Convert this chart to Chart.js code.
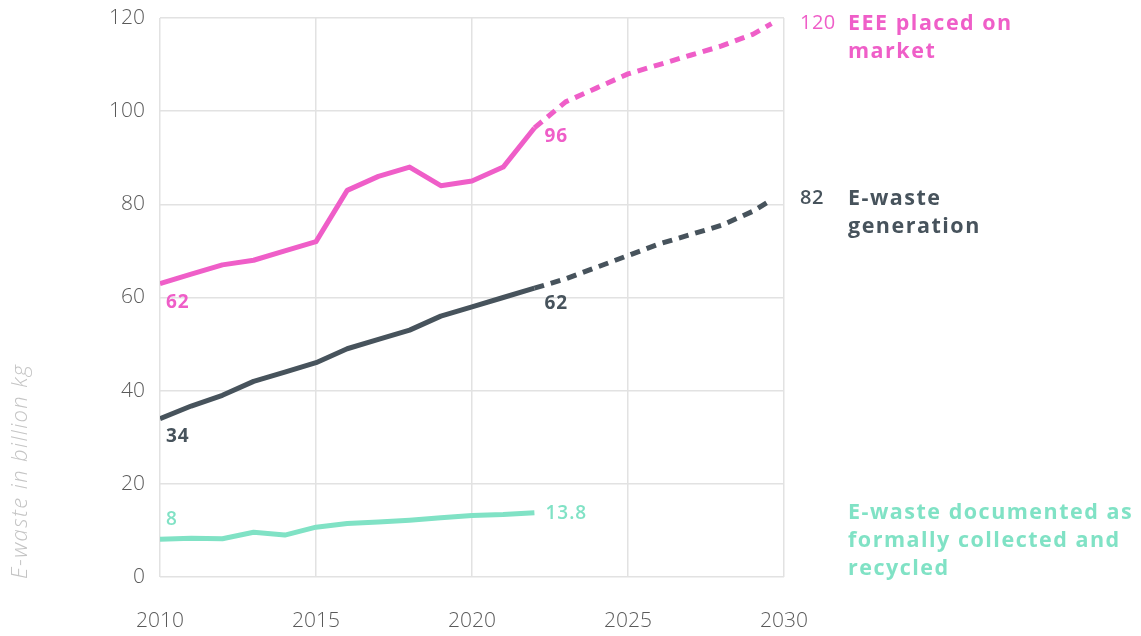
<!DOCTYPE html>
<html>
<head>
<meta charset="utf-8">
<script src="https://cdn.jsdelivr.net/npm/chart.js@4.4.1/dist/chart.umd.min.js"></script>
<style>
  html, body { margin: 0; padding: 0; background: #ffffff; }
  #wrap { width: 1141px; height: 636px; position: relative; }
</style>
</head>
<body>
<div id="wrap"><canvas id="c" width="1141" height="636"></canvas></div>
<script>
// ---- data ----
const years = [2010, 2011, 2012, 2013, 2014, 2015, 2016, 2017, 2018, 2019, 2020, 2021, 2022];
const eeeActual = [63, 65, 67, 68, 70, 72, 83, 86, 88, 84, 85, 88, 96.4];
const genActual = [34, 36.7, 39, 42, 44, 46, 49, 51, 53, 56, 58, 60, 62];
const collected = [8.1, 8.3, 8.2, 9.6, 9.0, 10.7, 11.5, 11.8, 12.2, 12.7, 13.2, 13.4, 13.8];
const projYears = [2022, 2023, 2024, 2025, 2026, 2027, 2028, 2029, 2029.6];
const eeeProj = [96.4, 102, 105, 108, 110, 112, 114, 116.5, 118.8];
const genProj = [62, 64, 66.5, 69, 71.5, 73.5, 75.5, 78.5, 81];
const yTicks = [0, 20, 40, 60, 80, 100, 120];
const xTicks = [2010, 2015, 2020, 2025, 2030];
const startLabels = { eee: '62', gen: '34', col: '8' };
const endLabels = { eee: '96', gen: '62', col: '13.8' };
const seriesNames = {
  eee: ['EEE placed on', 'market'],
  gen: ['E-waste', 'generation'],
  col: ['E-waste documented as', 'formally collected and', 'recycled']
};
const finalValues = { eee: '120', gen: '82' };
const yTitle = 'E-waste in billion kg';

const PINK = '#ef5ec8';
const GREY = '#47535c';
const TEAL = '#80e2c5';

const pts = (xs, ys) => xs.map((x, i) => ({ x: x, y: ys[i] }));

const labelPlugin = {
  id: 'labels',
  afterDatasetsDraw(chart) {
    const ctx = chart.ctx;
    const xs = chart.scales.x, ys = chart.scales.y;
    const ca = chart.chartArea;
    ctx.save();
    ctx.textBaseline = 'middle';
    ctx.textAlign = 'left';
    const f = (w, s, st) => (st || '') + ' ' + w + ' ' + s + 'px "Open Sans", sans-serif';
    // axis title
    ctx.save();
    ctx.translate(21, ca.bottom + 2);
    ctx.rotate(-Math.PI / 2);
    ctx.font = f(300, 22, 'italic');
    ctx.letterSpacing = '1.4px';
    ctx.fillStyle = '#c4c4c4';
    ctx.fillText(yTitle, 0, 0);
    ctx.restore();
    // start labels (below first point)
    ctx.letterSpacing = '1px';
    ctx.font = f(700, 19);
    ctx.fillStyle = PINK;
    ctx.fillText(startLabels.eee, xs.getPixelForValue(years[0]) + 6, ys.getPixelForValue(eeeActual[0]) + 19);
    ctx.fillStyle = GREY;
    ctx.fillText(startLabels.gen, xs.getPixelForValue(years[0]) + 6, ys.getPixelForValue(genActual[0]) + 18);
    ctx.fillStyle = TEAL;
    ctx.font = f(600, 19);
    ctx.fillText(startLabels.col, xs.getPixelForValue(years[0]) + 6, ys.getPixelForValue(collected[0]) - 20);
    // end-of-actual labels
    const last = years.length - 1;
    const xe = xs.getPixelForValue(years[last]) + 10;
    ctx.font = f(700, 19);
    ctx.fillStyle = PINK;
    ctx.fillText(endLabels.eee, xe, ys.getPixelForValue(eeeActual[last]) + 9);
    ctx.fillStyle = GREY;
    ctx.fillText(endLabels.gen, xe, ys.getPixelForValue(genActual[last]) + 15);
    ctx.fillStyle = TEAL;
    ctx.font = f(600, 19);
    ctx.fillText(endLabels.col, xe + 1, ys.getPixelForValue(collected[last]) + 1);
    // right-side series labels
    const xn = ca.right + 16, xt = ca.right + 64, lh = 28;
    const yE = ys.getPixelForValue(eeeProj[eeeProj.length - 1]);
    const yG = ys.getPixelForValue(genProj[genProj.length - 1]) - 1;
    const yC = ys.getPixelForValue(collected[last]);
    ctx.letterSpacing = '0.5px';
    ctx.font = f(500, 20);
    ctx.fillStyle = PINK;
    ctx.fillText(finalValues.eee, xn, yE);
    ctx.fillStyle = GREY;
    ctx.font = f(600, 20);
    ctx.fillText(finalValues.gen, xn, yG);
    ctx.letterSpacing = '1.5px';
    ctx.font = f(700, 21.5);
    ctx.fillStyle = PINK;
    seriesNames.eee.forEach((t, i) => ctx.fillText(t, xt, yE + i * lh));
    ctx.fillStyle = GREY;
    seriesNames.gen.forEach((t, i) => ctx.fillText(t, xt, yG + i * lh));
    ctx.fillStyle = TEAL;
    seriesNames.col.forEach((t, i) => ctx.fillText(t, xt, yC + i * lh));
    ctx.restore();
  }
};

const common = { pointRadius: 0, pointHoverRadius: 0, tension: 0, borderWidth: 5, fill: false, borderJoinStyle: 'round' };

new Chart(document.getElementById('c'), {
  type: 'line',
  data: {
    datasets: [
      Object.assign({ data: pts(projYears, eeeProj), borderColor: PINK, borderDash: [10, 7] }, common),
      Object.assign({ data: pts(projYears, genProj), borderColor: GREY, borderDash: [10, 7] }, common),
      Object.assign({ data: pts(years, eeeActual), borderColor: PINK }, common),
      Object.assign({ data: pts(years, genActual), borderColor: GREY }, common),
      Object.assign({ data: pts(years, collected), borderColor: TEAL }, common)
    ]
  },
  options: {
    responsive: false,
    animation: false,
    events: [],
    layout: { autoPadding: false, padding: { left: 0, right: 357, top: 18, bottom: 0 } },
    plugins: { legend: { display: false }, tooltip: { enabled: false } },
    scales: {
      x: {
        type: 'linear',
        min: 2010, max: 2030,
        afterBuildTicks(s) { s.ticks = xTicks.map(v => ({ value: v })); },
        afterFit(s) { s.height = 59; s.paddingLeft = 0; s.paddingRight = 0; s.paddingTop = 0; s.paddingBottom = 0; },
        grid: { color: '#e2e2e2', lineWidth: 1.5, drawTicks: false },
        border: { display: false },
        ticks: {
          padding: 31,
          color: '#5a5a5a',
          font: { family: '"Open Sans", sans-serif', size: 21, weight: 300 },
          callback: v => String(v),
          maxRotation: 0
        }
      },
      y: {
        min: 0, max: 120,
        afterBuildTicks(s) { s.ticks = yTicks.map(v => ({ value: v })); },
        afterFit(s) { s.width = 160; s.paddingTop = 0; s.paddingBottom = 0; s.paddingLeft = 0; s.paddingRight = 0; },
        grid: { color: '#e2e2e2', lineWidth: 1.5, drawTicks: false },
        border: { display: false },
        ticks: {
          padding: 15,
          color: '#5a5a5a',
          font: { family: '"Open Sans", sans-serif', size: 21, weight: 300 }
        }
      }
    }
  },
  plugins: [labelPlugin]
});
</script>
</body>
</html>
